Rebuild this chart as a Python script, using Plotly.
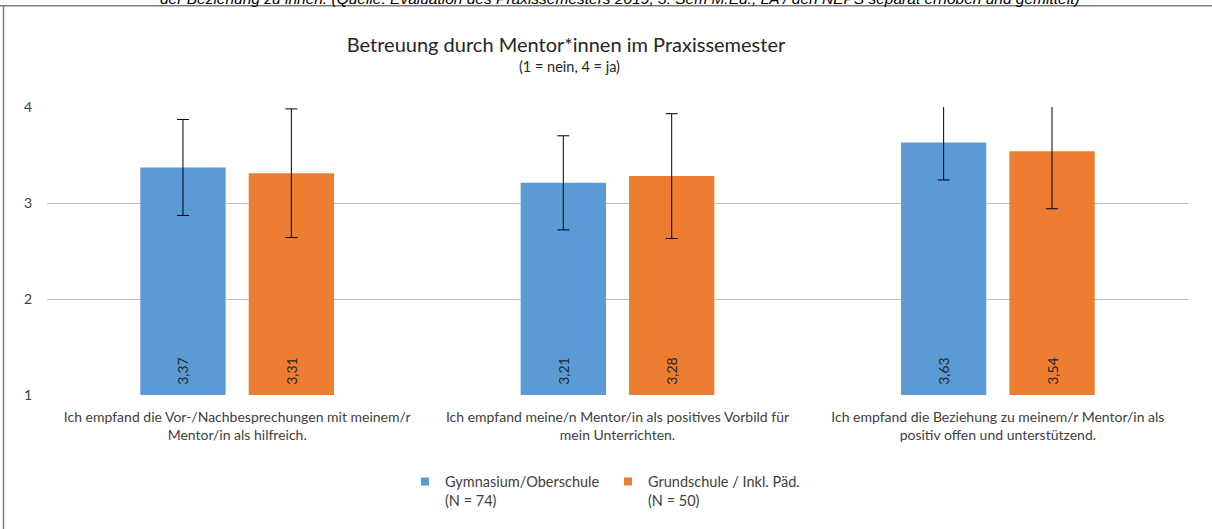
import plotly.graph_objects as go

categories = [
    "Ich empfand die Vor-/Nachbesprechungen mit meinem/r<br>Mentor/in als hilfreich.",
    "Ich empfand meine/n Mentor/in als positives Vorbild für<br>mein Unterrichten.",
    "Ich empfand die Beziehung zu meinem/r Mentor/in als<br>positiv offen und unterstützend.",
]
series_names = ["Gymnasium/Oberschule<br>(N = 74)", "Grundschule / Inkl. Päd.<br>(N = 50)"]
gym_values = [3.37, 3.21, 3.63]
gym_sd = [0.50, 0.49, 0.39]
grund_values = [3.31, 3.28, 3.54]
grund_sd = [0.67, 0.65, 0.60]
colors = ["#5B9BD5", "#ED7D31"]
tick_vals = [1, 2, 3, 4]
axis_min = 1

FONT = "Lato, 'Open Sans', sans-serif"

def fmt(v):
    return "\u00a0\u00a0" + f"{v:.2f}".replace(".", ",")

fig = go.Figure()
for name, vals, sd, col in [
    (series_names[0], gym_values, gym_sd, colors[0]),
    (series_names[1], grund_values, grund_sd, colors[1]),
]:
    fig.add_trace(go.Bar(
        x=categories, y=[v - axis_min for v in vals], base=[axis_min] * len(vals),
        name=name, showlegend=False,
        marker=dict(color=col, line=dict(width=0)),
        error_y=dict(type="data", array=sd, visible=True, color="#000000", thickness=1, width=6),
        text=[fmt(v) for v in vals], textposition="inside", insidetextanchor="start",
        textangle=-90, textfont=dict(family=FONT, size=14, color="#262626"),
        cliponaxis=True, hovertext=[f"{v:.2f}" for v in vals],
    ))
    fig.add_trace(go.Scatter(
        x=[None], y=[None], mode="markers", name=name, showlegend=True,
        marker=dict(symbol="square", size=8, color=col),
    ))

W, H = 1212, 529
L, R, T, B = 47, 24, 107, 132
pw, ph = W - L - R, H - T - B

def px_x(p):
    return (p - L) / pw

def px_y(p):
    return (H - B - p) / ph

fig.update_layout(
    width=W, height=H,
    margin=dict(l=L, r=R, t=T, b=B),
    paper_bgcolor="white", plot_bgcolor="white",
    barmode="group", bargap=0.43, bargroupgap=0.213,
    font=dict(family=FONT, size=14, color="#404040"),
    title=dict(text="Betreuung durch Mentor*innen im Praxissemester",
               x=566 / W, xanchor="center", y=1 - 45 / H, yanchor="middle",
               font=dict(family=FONT, size=20, color="#262626")),
    showlegend=True,
    legend=dict(orientation="h", x=px_x(405), xref="paper", xanchor="left",
                y=px_y(468), yanchor="top", valign="top",
                font=dict(family=FONT, size=14.5, color="#404040"),
                itemwidth=30, traceorder="normal", entrywidth=158),
    xaxis=dict(showgrid=False, showline=False, ticks="", ticklabelstandoff=12,
               tickfont=dict(family=FONT, size=14, color="#404040")),
    yaxis=dict(range=[1, 4], tickvals=tick_vals, showgrid=True, gridcolor="#BFBFBF",
               gridwidth=1.3, zeroline=False, showline=False, ticks="",
               tickfont=dict(family=FONT, size=14, color="#404040"), ticklabelstandoff=14),
    annotations=[
        dict(text="(1 = nein, 4 = ja)", xref="paper", yref="paper",
             x=px_x(569), y=px_y(66), xanchor="center", yanchor="middle",
             showarrow=False, font=dict(family=FONT, size=14.5, color="#262626")),
        dict(text="<i>der Beziehung zu ihnen. (Quelle: Evaluation des Praxissemesters 2019, 3. Sem M.Ed., LA / den NEPS separat erhoben und gemittelt)</i>",
             xref="paper", yref="paper", x=px_x(620), y=px_y(-2), xanchor="center", yanchor="middle",
             showarrow=False, font=dict(family="'Liberation Sans', Arial, sans-serif", size=15.5, color="#000000")),
    ],
    shapes=[
        dict(type="line", xref="paper", yref="paper", x0=px_x(0), x1=px_x(W), y0=px_y(5), y1=px_y(5),
             line=dict(color="#7F7F7F", width=1.5)),
        dict(type="line", xref="paper", yref="paper", x0=px_x(3.5), x1=px_x(3.5), y0=px_y(5), y1=px_y(H + 5),
             line=dict(color="#7F7F7F", width=1.5)),
    ],
)

fig.write_html("out.html", config={"displayModeBar": False},
               post_script="document.body.style.margin='0';document.body.style.overflow='hidden';")
